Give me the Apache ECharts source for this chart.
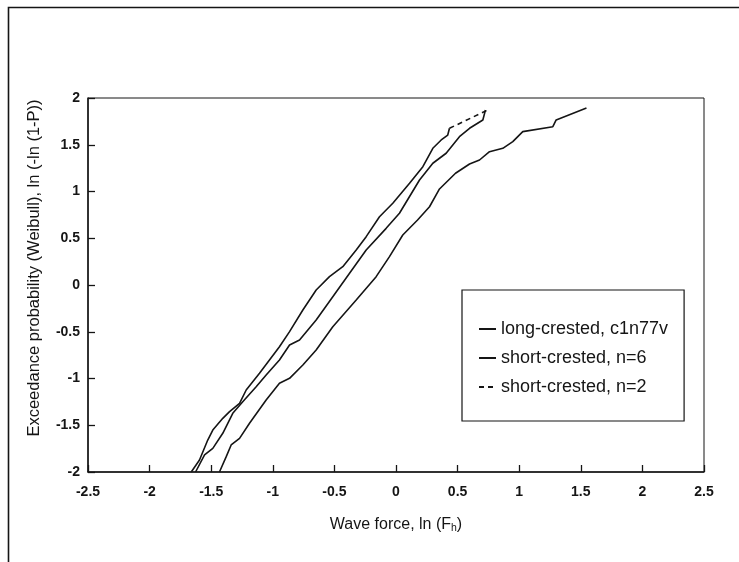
<!DOCTYPE html>
<html>
<head>
<meta charset="utf-8">
<title>Wave force exceedance probability</title>
<script src="https://cdn.jsdelivr.net/npm/echarts@6/dist/echarts.min.js"></script>
<style>
  html, body { margin: 0; padding: 0; background: #fff; }
  #chart { width: 739px; height: 562px; }
</style>
</head>
<body>
<div id="chart"></div>
<script>
// Tick positions on both axes
const xTicks = [-2.5, -2, -1.5, -1, -0.5, 0, 0.5, 1, 1.5, 2, 2.5];
const yTicks = [-2, -1.5, -1, -0.5, 0, 0.5, 1, 1.5, 2];

// Legend labels
const seriesNames = ['long-crested, c1n77v', 'short-crested, n=6', 'short-crested, n=2'];

// long-crested, c1n77v: ln(Fh) vs ln(-ln(1-P))
const longX = [-1.433, -1.378, -1.338, -1.270, -1.189, -1.054, -0.946, -0.864, -0.756, -0.648,
               -0.513, -0.323, -0.161, -0.053, 0.055, 0.175, 0.272, 0.353, 0.483, 0.597,
               0.678, 0.759, 0.867, 0.948, 1.029, 1.273, 1.300, 1.546];
const longY = [-2.000, -1.836, -1.711, -1.640, -1.479, -1.230, -1.051, -0.998, -0.856, -0.695,
               -0.446, -0.160, 0.089, 0.303, 0.535, 0.695, 0.837, 1.027, 1.195, 1.294,
               1.337, 1.426, 1.462, 1.533, 1.640, 1.693, 1.765, 1.893];

// short-crested, n=6
const sixX = [-1.627, -1.554, -1.487, -1.406, -1.325, -1.244, -1.135, -1.054, -0.946, -0.864,
              -0.783, -0.648, -0.513, -0.377, -0.242, -0.080, 0.028, 0.191, 0.299, 0.407,
              0.515, 0.597, 0.705, 0.726];
const sixY = [-2.000, -1.818, -1.747, -1.586, -1.372, -1.248, -1.088, -0.963, -0.802, -0.642,
              -0.588, -0.374, -0.125, 0.125, 0.374, 0.606, 0.767, 1.123, 1.302, 1.409,
              1.586, 1.676, 1.765, 1.872];

// short-crested, n=2
const twoX = [-1.662, -1.595, -1.528, -1.487, -1.406, -1.351, -1.270, -1.216, -1.108, -1.027,
              -0.946, -0.864, -0.756, -0.648, -0.540, -0.432, -0.323, -0.242, -0.134, -0.026,
              0.110, 0.218, 0.299, 0.367, 0.420, 0.434, 0.745];
const twoY = [-2.000, -1.872, -1.658, -1.551, -1.426, -1.355, -1.265, -1.123, -0.944, -0.802,
              -0.660, -0.499, -0.267, -0.053, 0.089, 0.196, 0.374, 0.517, 0.730, 0.874,
              1.088, 1.265, 1.462, 1.551, 1.604, 1.676, 1.872];

const pairs = (xs, ys) => xs.map((x, i) => [x, ys[i]]);
const twoPts = pairs(twoX, twoY);
// the dense part of the n=2 record reads as a solid trace; only the last long step shows its dashes
const twoTail = twoPts.slice(-2);
const twoBody = twoPts.slice(0, -1);

const ink = '#151515';
const font = '"Liberation Sans", Arial, Helvetica, sans-serif';

const lineSeries = (name, data, type) => ({
  name, type: 'line', data, symbol: 'none', silent: true, animation: false,
  lineStyle: { color: ink, width: 1.6, type: type || 'solid', dashOffset: 0 },
  itemStyle: { color: ink }
});

const chart = echarts.init(document.getElementById('chart'), null, { renderer: 'canvas' });
chart.setOption({
  backgroundColor: '#fff',
  animation: false,
  textStyle: { fontFamily: font, color: ink },
  graphic: [{
    type: 'rect', left: 6, top: 5, silent: true,
    shape: { x: 0, y: 0, width: 800, height: 700 },
    style: { fill: 'none', stroke: ink, lineWidth: 1.6 }
  }],
  grid: {
    left: 88, top: 98, width: 616, height: 374,
    show: true, borderColor: ink, borderWidth: 1, backgroundColor: 'transparent'
  },
  legend: {
    orient: 'vertical', left: 462, top: 290,
    data: seriesNames,
    borderColor: ink, borderWidth: 1.2, backgroundColor: '#fff',
    padding: [30, 16, 25, 16], itemGap: 11, itemWidth: 17, itemHeight: 14,
    itemStyle: { opacity: 0 },
    selectedMode: false,
    textStyle: { fontFamily: font, fontSize: 18, color: ink }
  },
  xAxis: {
    type: 'value', min: xTicks[0], max: xTicks[xTicks.length - 1], interval: 0.5,
    name: 'Wave force, ln (F{sub|h})',
    nameLocation: 'middle', nameGap: 44,
    nameTextStyle: {
      fontFamily: font, fontSize: 16, color: ink,
      rich: { sub: { fontFamily: font, fontSize: 10.5, color: ink, padding: [7, 0, 0, 0] } }
    },
    axisLine: { onZero: false, lineStyle: { color: ink, width: 1.5 } },
    axisTick: { inside: true, length: 7, lineStyle: { color: ink, width: 1.3 } },
    axisLabel: { margin: 13, fontFamily: font, fontSize: 14, fontWeight: 'bold', color: ink,
                 formatter: v => String(v) },
    splitLine: { show: false }
  },
  yAxis: {
    type: 'value', min: yTicks[0], max: yTicks[yTicks.length - 1], interval: 0.5,
    name: 'Exceedance probability (Weibull), ln (-ln (1-P))',
    nameLocation: 'middle', nameGap: 45,
    nameTextStyle: { fontFamily: font, fontSize: 16.5, color: ink, padding: [0, 0, 0, 34] },
    axisLine: { onZero: false, lineStyle: { color: ink, width: 1.5 } },
    axisTick: { inside: true, length: 7, lineStyle: { color: ink, width: 1.3 } },
    axisLabel: { margin: 8, fontFamily: font, fontSize: 14, fontWeight: 'bold', color: ink,
                 formatter: v => String(v) },
    splitLine: { show: false }
  },
  series: [
    lineSeries(seriesNames[0], pairs(longX, longY)),
    lineSeries(seriesNames[1], pairs(sixX, sixY)),
    lineSeries(seriesNames[2], twoTail, [5, 4]),
    lineSeries(seriesNames[2], twoBody)
  ]
});
</script>
</body>
</html>
